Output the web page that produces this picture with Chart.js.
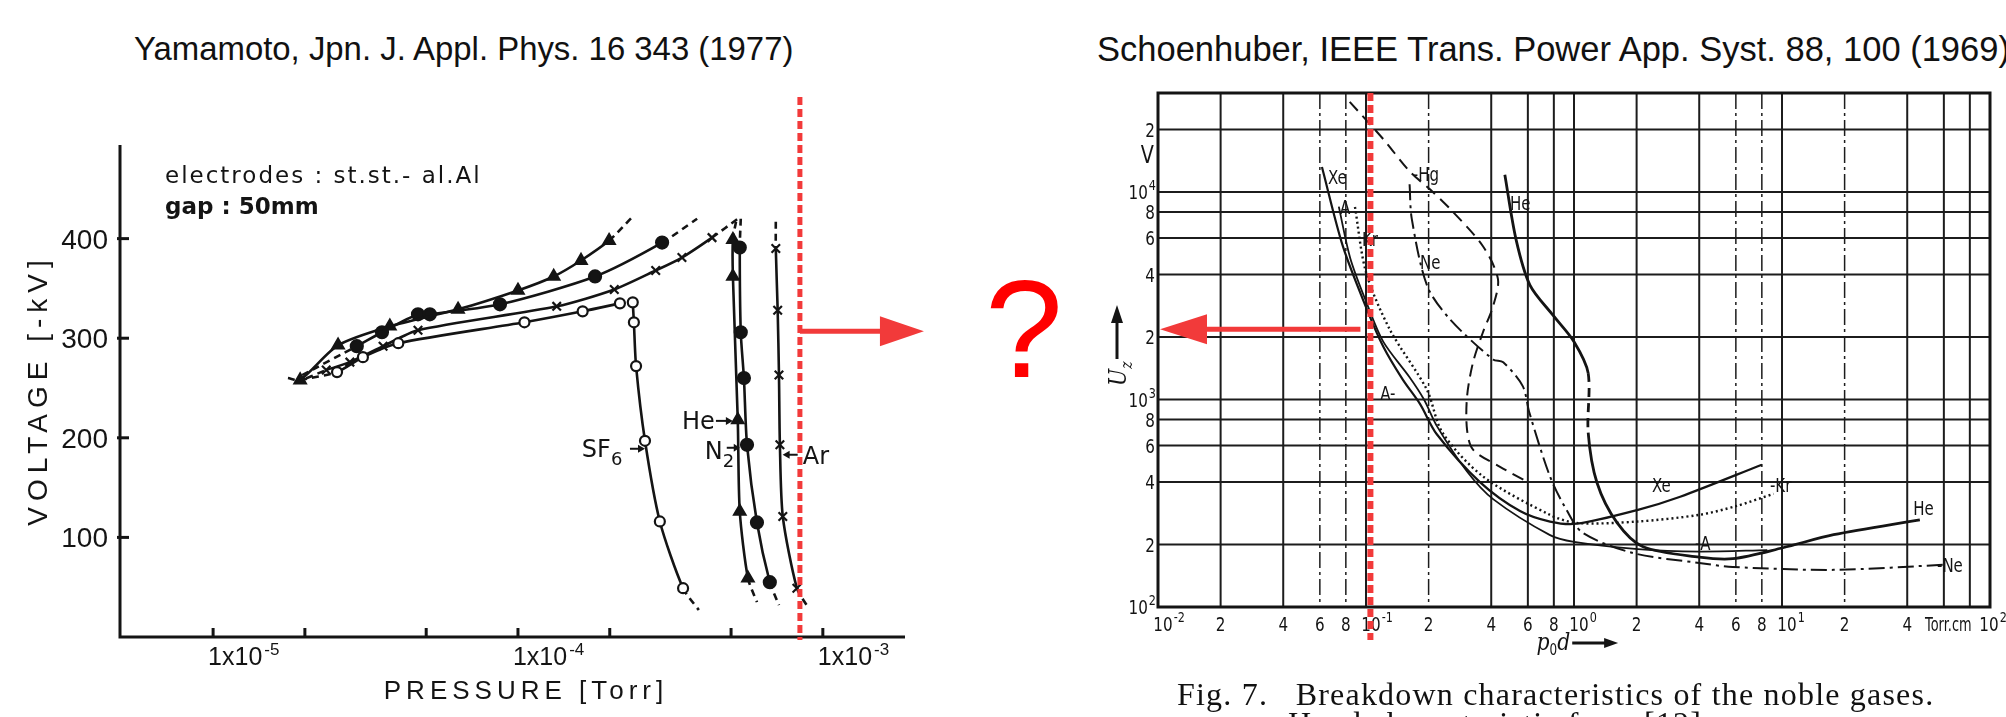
<!DOCTYPE html>
<html>
<head>
<meta charset="utf-8">
<script src="https://cdn.jsdelivr.net/npm/chart.js@4.4.1/dist/chart.umd.min.js"></script>
<style>
  html,body{margin:0;padding:0;background:#fff;}
  body{position:relative;width:2006px;height:717px;overflow:hidden;font-family:"Liberation Sans",Arial,sans-serif;}
  canvas{position:absolute;top:0;}
  #left{left:0;}
  #right{left:1000px;}
  .ref{position:absolute;top:33px;line-height:1;color:#111;white-space:nowrap;}
  #qmark{position:absolute;left:985px;top:259px;font-size:140px;line-height:1;color:#ff0000;}
  .cap{position:absolute;font-family:"Liberation Serif",serif;font-size:32px;letter-spacing:1.2px;line-height:1;color:#111;white-space:nowrap;}
</style>
</head>
<body>
<div class="ref" style="left:134px;font-size:32.9px">Yamamoto, Jpn. J. Appl. Phys. 16 343 (1977)</div>
<div class="ref" style="left:1097px;top:32px;font-size:34.5px">Schoenhuber, IEEE Trans. Power App. Syst. 88, 100 (1969)</div>
<canvas id="left" width="1000" height="717"></canvas>
<canvas id="right" width="1006" height="717"></canvas>
<div id="qmark">?</div>
<div class="cap" style="left:1177px;top:678px">Fig. 7.&nbsp;&nbsp; Breakdown characteristics of the noble gases.</div>
<div class="cap" style="left:1288px;top:707px">Hand characteristic form [12].</div>
<script>
var ink = '#141414';
var red = '#f23a3a';

// ---------- left: Yamamoto, voltage [-kV] vs pressure [Torr] ----------
// every gas: low pressure branch + steep high pressure branch
var sf6Low  = [[1.93e-5,258],[2.55e-5,266],[3.10e-5,281],[4.05e-5,295],[1.05e-4,316],[1.63e-4,327],[2.16e-4,335]];
var sf6High = [[2.38e-4,336],[2.40e-4,316],[2.44e-4,272],[2.61e-4,197],[2.92e-4,116],[3.48e-4,49],[3.92e-4,27]];
var heLow   = [[1.76e-5,260],[1.93e-5,258],[2.57e-5,293],[3.80e-5,312],[6.36e-5,329],[1.00e-4,348],[1.31e-4,362],[1.61e-4,378],[1.99e-4,398],[2.36e-4,421]];
var heHigh  = [[5.19e-4,417],[5.07e-4,399],[5.07e-4,362],[5.26e-4,218],[5.34e-4,126],[5.68e-4,59],[6.08e-4,35]];
var n2Low   = [[1.96e-5,263],[2.96e-5,292],[3.58e-5,306],[4.70e-5,324],[5.14e-5,324],[8.73e-5,334],[1.79e-4,362],[2.97e-4,396],[3.87e-4,420]];
var n2High  = [[5.38e-4,420],[5.34e-4,391],[5.38e-4,306],[5.51e-4,260],[5.64e-4,193],[6.08e-4,115],[6.70e-4,55],[7.18e-4,32]];
var arLow   = [[1.86e-5,255],[2.35e-5,268],[2.81e-5,276],[3.61e-5,292],[4.70e-5,308],[1.34e-4,332],[2.07e-4,349],[2.83e-4,368],[3.45e-4,381],[4.33e-4,401],[5.26e-4,420]];
var arHigh  = [[7.01e-4,417],[7.01e-4,390],[7.11e-4,328],[7.18e-4,263],[7.23e-4,193],[7.39e-4,121],[8.22e-4,49],[8.93e-4,30]];

var kvTicks = [100,200,300,400];
var pDecades = [1e-5,1e-4,1e-3];
var pDecadeExp = ['-5','-4','-3'];
var pMinor = [2e-5,5e-5,2e-4,5e-4];
var pMark = 8.41e-4;   // red line
var kvArrow = 307;

function branch(pts, style, fill, r, dashFirst, dashLast) {
  var n = pts.length;
  return {
    data: pts.map(function(p){ return {x:p[0], y:p[1]}; }),
    borderColor: ink, borderWidth: 2.6, tension: 0.25,
    pointStyle: style,
    pointRadius: pts.map(function(p,i){ return (dashFirst && i === 0) || (dashLast && i === n-1) ? 0 : r; }),
    pointBackgroundColor: fill, pointBorderColor: ink, pointBorderWidth: 2.2,
    segment: { borderDash: function(c){ return ((dashFirst && c.p0DataIndex === 0) || (dashLast && c.p1DataIndex === n-1)) ? [7,5] : undefined; } }
  };
}

function txt(ctx, s, x, y, font, align, sx) {
  ctx.save();
  ctx.font = font;
  ctx.textBaseline = 'alphabetic';
  ctx.textAlign = 'left';
  var w = ctx.measureText(s).width * sx;
  var x0 = align === 'right' ? x - w : (align === 'center' ? x - w/2 : x);
  ctx.translate(x0, y);
  ctx.scale(sx, 1);
  ctx.fillText(s, 0, 0);
  ctx.restore();
  return w;
}

function arrowH(ctx, x0, x1, y, head, half, lw) {
  var d = x1 > x0 ? 1 : -1;
  ctx.lineWidth = lw;
  ctx.beginPath(); ctx.moveTo(x0, y); ctx.lineTo(x1 - d*head*0.6, y); ctx.stroke();
  ctx.beginPath(); ctx.moveTo(x1, y); ctx.lineTo(x1 - d*head, y - half); ctx.lineTo(x1 - d*head, y + half); ctx.closePath(); ctx.fill();
}

var leftDeco = {
  id: 'leftDeco',
  beforeDatasetsDraw: function(chart) {
    var ctx = chart.ctx, a = chart.chartArea, xs = chart.scales.x, ys = chart.scales.y;
    ctx.save();
    ctx.strokeStyle = ink; ctx.fillStyle = ink; ctx.lineWidth = 3;
    ctx.beginPath(); ctx.moveTo(a.left, a.top); ctx.lineTo(a.left, a.bottom); ctx.lineTo(a.right, a.bottom); ctx.stroke();
    kvTicks.forEach(function(v){
      var py = ys.getPixelForValue(v);
      ctx.beginPath(); ctx.moveTo(a.left-3, py); ctx.lineTo(a.left+9, py); ctx.stroke();
      txt(ctx, String(v), a.left-12, py+10, '28px "Liberation Sans"', 'right', 1);
    });
    pMinor.concat(pDecades).forEach(function(v){
      var px = xs.getPixelForValue(v);
      ctx.beginPath(); ctx.moveTo(px, a.bottom); ctx.lineTo(px, a.bottom-9); ctx.stroke();
    });
    pDecades.forEach(function(v, i){
      var px = xs.getPixelForValue(v) - 5;
      var w = txt(ctx, '1x10', px, a.bottom+28, '25px "Liberation Sans"', 'left', 1);
      txt(ctx, pDecadeExp[i], px + w + 2, a.bottom+18, '17px "Liberation Sans"', 'left', 1);
    });
    // axis titles
    ctx.save();
    ctx.translate(37, 393); ctx.rotate(-Math.PI/2);
    ctx.letterSpacing = '6px';
    txt(ctx, 'VOLTAGE [-kV]', 3, 10, '28px "Liberation Sans"', 'center', 1);
    ctx.restore();
    ctx.save(); ctx.letterSpacing = '5px';
    txt(ctx, 'PRESSURE [Torr]', 526, 699, '26px "Liberation Sans"', 'center', 1);
    ctx.restore();
    ctx.save(); ctx.letterSpacing = '2px';
    txt(ctx, 'electrodes : st.st.- al.Al', 165, 183, '23px "DejaVu Sans"', 'left', 1);
    ctx.restore();
    txt(ctx, 'gap : 50mm', 165, 214, 'bold 23px "DejaVu Sans"', 'left', 1);
    // gas labels
    var lf = '24px "DejaVu Sans"';
    var y;
    y = ys.getPixelForValue(217);
    txt(ctx, 'He', xs.getPixelForValue(3.45e-4), y+8, lf, 'left', 1);
    ctx.lineWidth = 2; arrowH(ctx, xs.getPixelForValue(4.46e-4), xs.getPixelForValue(5.07e-4), y, 7, 4, 2);
    y = ys.getPixelForValue(189);
    var w = txt(ctx, 'SF', xs.getPixelForValue(1.62e-4), y+8, lf, 'left', 1);
    txt(ctx, '6', xs.getPixelForValue(1.62e-4)+w, y+16, '18px "DejaVu Sans"', 'left', 1);
    arrowH(ctx, xs.getPixelForValue(2.33e-4), xs.getPixelForValue(2.61e-4), y, 7, 4, 2);
    y = ys.getPixelForValue(188);
    w = txt(ctx, 'N', xs.getPixelForValue(4.10e-4), y+9, lf, 'left', 1);
    txt(ctx, '2', xs.getPixelForValue(4.10e-4)+w, y+17, '18px "DejaVu Sans"', 'left', 1);
    arrowH(ctx, xs.getPixelForValue(4.84e-4), xs.getPixelForValue(5.34e-4), ys.getPixelForValue(190), 6, 4, 2);
    y = ys.getPixelForValue(183);
    txt(ctx, 'Ar', xs.getPixelForValue(8.59e-4), y+9, lf, 'left', 1);
    arrowH(ctx, xs.getPixelForValue(8.27e-4), xs.getPixelForValue(7.38e-4), y, 7, 4, 2);
    ctx.restore();
  },
  afterDatasetsDraw: function(chart) {
    var ctx = chart.ctx, a = chart.chartArea, xs = chart.scales.x, ys = chart.scales.y;
    var px = xs.getPixelForValue(pMark);
    ctx.save();
    ctx.strokeStyle = red; ctx.fillStyle = red;
    ctx.lineWidth = 5; ctx.setLineDash([8,4]);
    ctx.beginPath(); ctx.moveTo(px, 97); ctx.lineTo(px, a.bottom+3); ctx.stroke();
    ctx.setLineDash([]);
    arrowH(ctx, px, px+124, ys.getPixelForValue(kvArrow), 44, 15, 5);
    ctx.restore();
  }
};

new Chart(document.getElementById('left'), {
  type: 'line',
  data: { datasets: [
    branch(sf6Low, 'circle', '#fff', 5, true, false),
    branch(sf6High, 'circle', '#fff', 5, false, true),
    branch(heLow, 'triangle', ink, 6.5, true, true),
    branch(heHigh, 'triangle', ink, 6.5, true, true),
    branch(n2Low, 'circle', ink, 6, true, true),
    branch(n2High, 'circle', ink, 6, true, true),
    branch(arLow, 'crossRot', ink, 6, true, true),
    branch(arHigh, 'crossRot', ink, 6, true, true)
  ]},
  options: {
    responsive: false, animation: false, devicePixelRatio: 1,
    layout: { padding: { left: 120, top: 145, right: 95, bottom: 80 } },
    plugins: { legend: { display: false }, tooltip: { enabled: false } },
    scales: {
      x: { type: 'logarithmic', min: 4.95e-6, max: 1.86e-3, display: false },
      y: { type: 'linear', min: 0, max: 494, display: false }
    }
  },
  plugins: [leftDeco]
});

// ---------- right: Schoenhuber, U_z [V] vs p0d [Torr cm] ----------
var xe = [[0.0614,13200],[0.0774,5480],[0.101,2720],[0.121,1800],[0.15,1250],[0.182,950],[0.219,680],[0.353,400],[0.55,290],[0.767,258],[1.03,252],[2.03,294],[3.24,340],[8.0,485]];
var ar = [[0.074,8500],[0.084,4800],[0.101,2900],[0.121,1900],[0.162,1280],[0.19,1000],[0.22,740],[0.306,450],[0.41,330],[0.767,222],[1.0,206],[2.03,190],[4.0,185],[8.5,188]];
var kr = [[0.0885,8470],[0.1,4110],[0.13,2180],[0.196,1117],[0.233,693],[0.366,425],[0.767,278],[1.03,254],[2.0,258],[4.0,278],[6.0,306],[9.1,351]];
var hg = [[0.0835,27200],[0.121,18000],[0.163,12500],[0.203,10300],[0.254,8280],[0.365,5480],[0.431,3800],[0.408,2810],[0.365,2110],[0.327,1510],[0.306,1030],[0.306,716],[0.327,573],[0.441,474],[0.594,402]];
var ne = [[0.162,10900],[0.166,7420],[0.197,3520],[0.254,2430],[0.408,1560],[0.457,1510],[0.567,1160],[0.61,865],[0.767,425],[0.92,294],[1.10,228],[1.92,182],[4.0,163],[5.8,156],[17.7,151],[62,160]];
var he = [[0.465,12100],[0.526,5930],[0.614,3560],[0.792,2550],[1.0,1900],[1.17,1340],[1.17,693],[1.29,397],[1.61,255],[2.15,195],[4.0,174],[5.8,171],[10.1,193],[17.7,223],[46,263]];

var gridX = [0.02,0.04,0.06,0.08,0.1,0.2,0.4,0.6,0.8,1,2,4,6,8,10,20,40,60,80];
var gridXLight = [0.06,0.08,0.2,6,8,20];
var gridY = [200,400,600,800,1000,2000,4000,6000,8000,10000,20000];
var xTickVals = [0.01,0.02,0.04,0.06,0.08,0.1,0.2,0.4,0.6,0.8,1,2,4,6,8,10,20,40,100];
var xTickText = ['10^-2','2','4','6','8','10^-1','2','4','6','8','10^0','2','4','6','8','10^1','2','4','10^2'];
var yTickVals = [100,200,400,600,800,1000,2000,4000,6000,8000,10000,20000];
var yTickText = ['10^2','2','4','6','8','10^3','2','4','6','8','10^4','2'];
var gasLabels = [
  ['Xe',0.0656,11800],['A',0.075,8470],['Kr',0.0957,5930],['-Hg',0.168,12200],['Ne',0.182,4590],['He',0.492,8850],
  ['A-',0.117,1080],['Xe',2.37,388],['-Kr',8.75,388],['-A',3.82,204],['He',42.7,301],['-Ne',55.6,160]
];
var vMark = 0.105;   // red line
var vArrow = 2180;

function powText(ctx, s, x, y, size, align, sx) {
  var parts = s.split('^');
  var f = size + 'px "DejaVu Sans"', fe = Math.round(size*0.72) + 'px "DejaVu Sans"';
  ctx.save();
  ctx.font = f; var wb = ctx.measureText(parts[0]).width * sx;
  var we = 0;
  if (parts[1]) { ctx.font = fe; we = ctx.measureText(parts[1]).width * sx; }
  ctx.restore();
  var tot = wb + we;
  var x0 = align === 'right' ? x - tot : (align === 'center' ? x - wb/2 : x);
  txt(ctx, parts[0], x0, y, f, 'left', sx);
  if (parts[1]) txt(ctx, parts[1], x0 + wb + 1, y - size*0.45, fe, 'left', sx);
}

var rightDeco = {
  id: 'rightDeco',
  beforeDatasetsDraw: function(chart) {
    var ctx = chart.ctx, a = chart.chartArea, xs = chart.scales.x, ys = chart.scales.y;
    ctx.save();
    ctx.strokeStyle = '#1c1c1c'; ctx.fillStyle = ink;
    gridY.forEach(function(v){
      var py = ys.getPixelForValue(v);
      ctx.lineWidth = 2;
      ctx.beginPath(); ctx.moveTo(a.left, py); ctx.lineTo(a.right, py); ctx.stroke();
    });
    gridX.forEach(function(v){
      var px = xs.getPixelForValue(v);
      var light = gridXLight.indexOf(v) >= 0;
      ctx.lineWidth = light ? 1.5 : 2;
      ctx.setLineDash(light ? [16,4,3,4] : []);
      ctx.beginPath(); ctx.moveTo(px, a.top); ctx.lineTo(px, a.bottom); ctx.stroke();
    });
    ctx.setLineDash([]);
    ctx.lineWidth = 3; ctx.strokeStyle = ink;
    ctx.strokeRect(a.left, a.top, a.right - a.left, a.bottom - a.top);
    yTickVals.forEach(function(v, i){
      powText(ctx, yTickText[i], a.left - 3, ys.getPixelForValue(v) + 7, 19, 'right', 0.8);
    });
    txt(ctx, 'V', a.left - 4, ys.getPixelForValue(15300) + 9, '24px "DejaVu Sans"', 'right', 0.8);
    xTickVals.forEach(function(v, i){
      var t = xTickText[i];
      var off = t.indexOf('^') < 0 ? 0 : (v === 100 ? -1 : 5);
      powText(ctx, t, xs.getPixelForValue(v) + off, a.bottom + 24, 19, 'center', 0.8);
    });
    txt(ctx, 'Torr.cm', xs.getPixelForValue(63), a.bottom + 24, '19px "DejaVu Sans"', 'center', 0.68);
    // p0d arrow
    var bx = xs.getPixelForValue(0.66), by = a.bottom + 43;
    var w = txt(ctx, 'p', bx, by, 'italic 24px "DejaVu Serif"', 'left', 0.85);
    var w2 = txt(ctx, '0', bx + w, by + 5, '15px "DejaVu Sans"', 'left', 0.8);
    var w3 = txt(ctx, 'd', bx + w + w2, by, 'italic 24px "DejaVu Serif"', 'left', 0.85);
    ctx.strokeStyle = ink;
    arrowH(ctx, bx + w + w2 + w3 + 2, xs.getPixelForValue(1.63), by - 7, 14, 5, 3);
    // U_z with arrow
    ctx.save();
    ctx.translate(a.left - 40, a.top + 283);
    ctx.rotate(-Math.PI/2);
    var wu = txt(ctx, 'U', -10, 8, 'italic 24px "DejaVu Serif"', 'left', 0.85);
    txt(ctx, 'z', -10 + wu, 14, 'italic 16px "DejaVu Serif"', 'left', 0.85);
    ctx.restore();
    ctx.lineWidth = 3;
    ctx.beginPath(); ctx.moveTo(a.left - 41, a.top + 266); ctx.lineTo(a.left - 41, a.top + 225); ctx.stroke();
    ctx.beginPath(); ctx.moveTo(a.left - 41, a.top + 212); ctx.lineTo(a.left - 47, a.top + 230); ctx.lineTo(a.left - 35, a.top + 230); ctx.closePath(); ctx.fill();
    ctx.restore();
  },
  afterDatasetsDraw: function(chart) {
    var ctx = chart.ctx, a = chart.chartArea, xs = chart.scales.x, ys = chart.scales.y;
    ctx.save();
    ctx.fillStyle = ink;
    gasLabels.forEach(function(g){
      txt(ctx, g[0], xs.getPixelForValue(g[1]), ys.getPixelForValue(g[2]) + 7, '20px "DejaVu Sans"', 'left', 0.75);
    });
    var px = xs.getPixelForValue(vMark);
    ctx.strokeStyle = red; ctx.fillStyle = red;
    ctx.lineWidth = 6; ctx.setLineDash([8,4]);
    ctx.beginPath(); ctx.moveTo(px, a.top); ctx.lineTo(px, a.bottom + 33); ctx.stroke();
    ctx.setLineDash([]);
    arrowH(ctx, px - 10, a.left + 2, ys.getPixelForValue(vArrow), 47, 15, 5);
    ctx.restore();
  }
};

function curve(pts, width, dash, dashedSeg) {
  return {
    data: pts.map(function(p){ return {x:p[0], y:p[1]}; }),
    borderColor: ink, borderWidth: width, borderDash: dash, tension: 0.3,
    pointRadius: 0,
    segment: dashedSeg === undefined ? {} : { borderDash: function(c){ return c.p0DataIndex === dashedSeg ? [9,6] : undefined; } }
  };
}

new Chart(document.getElementById('right'), {
  type: 'line',
  data: { datasets: [
    curve(xe, 2.2, []),
    curve(ar, 1.8, []),
    curve(kr, 2.4, [2,3]),
    curve(hg, 2, [12,7]),
    curve(ne, 2, [16,5,3,5]),
    curve(he, 2.8, [], 5)
  ]},
  options: {
    responsive: false, animation: false, devicePixelRatio: 1,
    layout: { padding: { left: 158, top: 93, right: 16, bottom: 110 } },
    plugins: { legend: { display: false }, tooltip: { enabled: false } },
    scales: {
      x: { type: 'logarithmic', min: 0.01, max: 100, display: false },
      y: { type: 'logarithmic', min: 100, max: 30000, display: false }
    }
  },
  plugins: [rightDeco]
});
</script>
</body>
</html>
